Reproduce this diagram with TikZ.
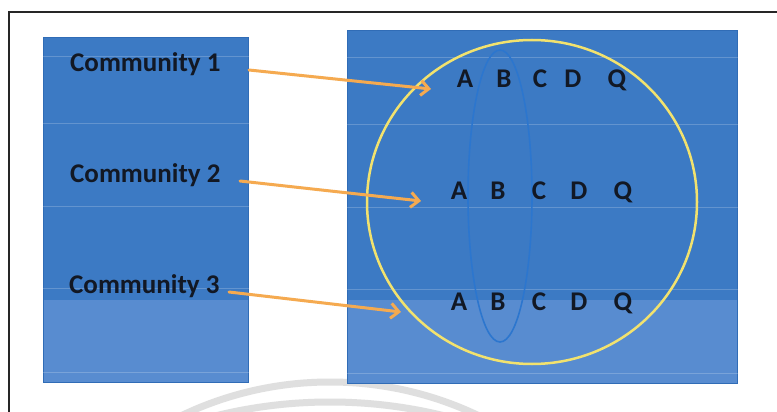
\documentclass[tikz,border=0pt]{standalone}
\usepackage{fontspec}
\setmainfont{Carlito}
\usetikzlibrary{arrows.meta}
\definecolor{boxdark}{RGB}{60,122,196}
\definecolor{boxlight}{RGB}{88,140,208}
\definecolor{boxedge}{RGB}{48,108,182}
\definecolor{ringyellow}{RGB}{242,226,110}
\definecolor{arroworange}{RGB}{245,170,80}
\definecolor{ellblue}{RGB}{44,118,206}
\definecolor{txt}{RGB}{18,24,36}
\tikzset{
  lbl/.style={inner sep=0pt, anchor=base west, text=txt, font=\fontsize{27}{31}\selectfont\bfseries},
  letter/.style={inner sep=0pt, anchor=base, text=txt, font=\fontsize{27}{31}\selectfont\bfseries},
  conn/.style={draw=arroworange, line width=3pt, line cap=round, -{Straight Barb[length=8pt,width=15pt,line width=3pt]}},
  faint/.style={draw=white, opacity=0.2, line width=1pt},
  wmark/.style={draw=gray!25, line width=7pt}
}
\begin{document}
\begin{tikzpicture}[x=1pt,y=-1pt]
\useasboundingbox (0,0) rectangle (777,412);
\fill[white] (0,0) rectangle (777,412);
% watermark arcs
\begin{scope}
\clip (0,0) rectangle (777,412);
\draw[wmark] (330,726) circle[radius=344];
\draw[wmark] (330,877) circle[radius=475];
\end{scope}
% frame
\draw[black!85, line width=2.2pt] (9,412) -- (9,12) -- (777,12);
% left box
\fill[boxdark] (43,37) rectangle (248,300);
\fill[boxlight] (43,300) rectangle (248,382);
\draw[boxedge, line width=0.8pt] (43,37) rectangle (248,382);
% right box
\fill[boxdark] (347,30) rectangle (737,300);
\fill[boxlight] (347,300) rectangle (737,383);
\draw[boxedge, line width=0.8pt] (347,30) rectangle (737,383);
% faint lines
\foreach \y in {57,123,206,288,372} {
  \draw[faint] (40,\y) -- (250,\y);
  \draw[faint] (345,\y+1) -- (739,\y+1);
}
% ellipse and ring
\draw[ellblue, line width=1.6pt] (500,196) ellipse[x radius=32, y radius=146];
\draw[ringyellow, line width=2.5pt] (532,202) ellipse[x radius=165, y radius=162];
% labels
\node[lbl] (c1) at (70,72) {Community 1};
\node[lbl] (c2) at (70,182) {Community 2};
\node[lbl] (c3) at (69,293) {Community 3};
% letters
\node[letter] (a1) at (465,88) {A};
\node[letter] (b1) at (504,88) {B};
\node[letter] (cc1) at (540,88) {C};
\node[letter] (d1) at (573,88) {D};
\node[letter] (q1) at (617,88) {Q};
\node[letter] (a2) at (459,199) {A};
\node[letter] (b2) at (498,199) {B};
\node[letter] (cc2) at (539,199) {C};
\node[letter] (d2) at (579,199) {D};
\node[letter] (q2) at (623,199) {Q};
\node[letter] (a3) at (459,310) {A};
\node[letter] (b3) at (498,310) {B};
\node[letter] (cc3) at (539,310) {C};
\node[letter] (d3) at (579,310) {D};
\node[letter] (q3) at (623,310) {Q};
% arrows
\coordinate (s1) at (249,70);
\coordinate (t1) at (431,89);
\coordinate (s2) at (240,181);
\coordinate (t2) at (421,201);
\coordinate (s3) at (229,292);
\coordinate (t3) at (401,312);
\draw[conn] (s1) -- (t1);
\draw[conn] (s2) -- (t2);
\draw[conn] (s3) -- (t3);
\end{tikzpicture}
\end{document}
